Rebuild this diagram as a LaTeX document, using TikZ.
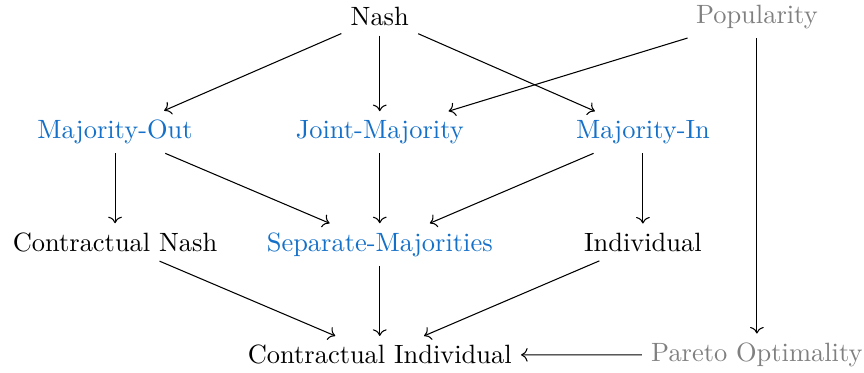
\documentclass[tikz,border=0pt]{standalone}
\usepackage{tikz-cd}
\definecolor{propblue}{RGB}{20,112,200}
\definecolor{propgray}{gray}{0.5}
\tikzset{
  concept/.style={anchor=base, inner sep=0.333em},
  strong/.style={concept, text=propblue},
  weak/.style={concept, text=propgray},
  implies/.style={-{cm to}, line width=0.4pt}
}
\begin{document}
\begin{tikzpicture}[x=1pt, y=1pt]
  \useasboundingbox (0,0) rectangle (326.7,-141);
  % row baselines
  \def\ra{-9.8}
  \def\rb{-52.4}
  \def\rc{-95.0}
  \def\rd{-137.6}
  % top row
  \node[concept] (nash) at (143.6,\ra) {Nash};
  \node[weak] (pop) at (286.2,-8.8) {Popularity};
  % second row
  \node[strong] (mout) at (43.5,\rb) {Majority-Out};
  \node[strong] (joint) at (143.6,\rb) {Joint-Majority};
  \node[strong] (min) at (243.1,\rb) {Majority-In};
  % third row
  \node[concept] (cnash) at (43.5,\rc) {Contractual Nash};
  \node[strong] (sep) at (143.6,\rc) {Separate-Majorities};
  \node[concept] (ind) at (243.1,\rc) {Individual};
  % bottom row
  \node[concept] (cind) at (143.6,\rd) {Contractual Individual};
  \node[weak] (pareto) at (286.2,-136.7) {Pareto Optimality};
  % implications
  \draw[implies] (nash) -- (mout);
  \draw[implies] (nash) -- (joint);
  \draw[implies] (nash) -- (min);
  \draw[implies] (pop) -- (joint);
  \draw[implies] (pop.south -| pareto.north) -- (pareto);
  \draw[implies] (mout) -- (cnash);
  \draw[implies] (mout) -- (sep);
  \draw[implies] (joint) -- (sep);
  \draw[implies] (min) -- (sep);
  \draw[implies] (min) -- (ind);
  \draw[implies] (cnash) -- (cind);
  \draw[implies] (sep) -- (cind);
  \draw[implies] (ind) -- (cind);
  \draw[implies] (pareto) -- (cind);
\end{tikzpicture}
\end{document}
